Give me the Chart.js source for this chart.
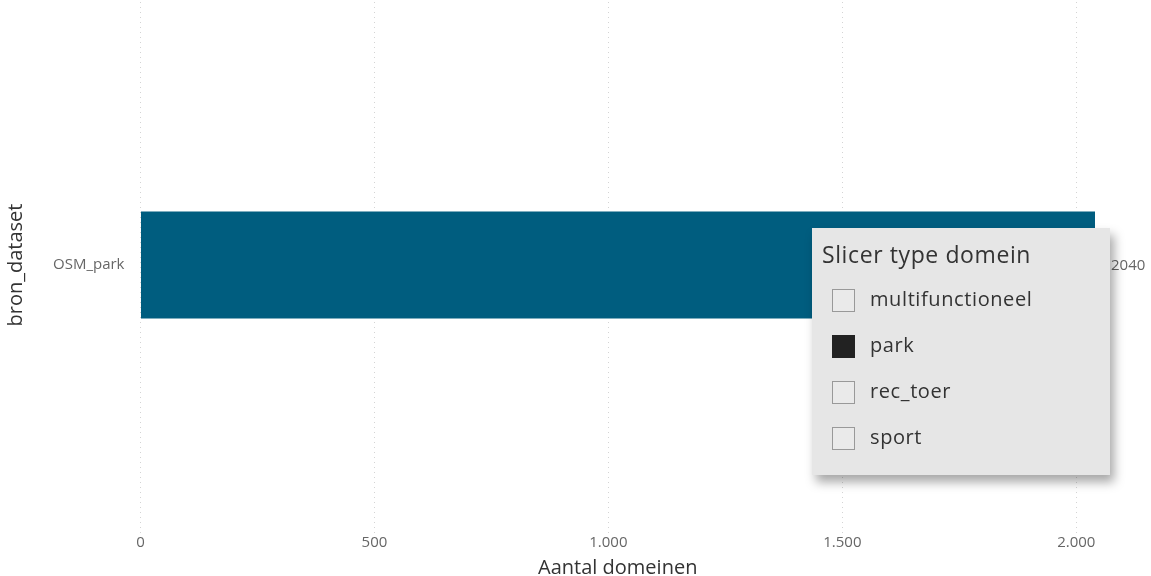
<!DOCTYPE html>
<html>
<head>
<meta charset="utf-8">
<script src="https://cdn.jsdelivr.net/npm/chart.js@4.4.1/dist/chart.umd.min.js"></script>
<style>
  html, body { margin: 0; padding: 0; background: #fff; }
  #wrap { position: relative; width: 1151px; height: 576px; overflow: hidden; }
  #barChart { position: absolute; left: 0; top: -20px; }
  #slicer {
    position: absolute; left: 812px; top: 228px; width: 298px; height: 247px;
    background: #e6e6e6; box-shadow: 4px 7px 10px rgba(0,0,0,0.35);
    font-family: "Open Sans", sans-serif; color: #333; letter-spacing: 0.6px;
  }
  #slicer .title { position: absolute; left: 10px; top: 10px; font-size: 23px; color: #333; }
  #slicer .item { position: absolute; left: 20px; height: 26px; font-size: 20px; line-height: 24px; }
  #slicer .box {
    display: inline-block; width: 23px; height: 23px; border: 1px solid #999;
    box-sizing: border-box; vertical-align: middle; margin-right: 15px; background: #eaeaea;
  }
  #slicer .box.on { background: #222; border-color: #222; }
</style>
</head>
<body>
<div id="wrap">
  <canvas id="barChart" width="1151" height="596"></canvas>
  <div id="slicer"></div>
</div>
<script>
const categories = ['OSM_park'];
const values = [2040];
const xTicks = [0, 500, 1000, 1500, 2000];
const slicerItems = ['multifunctioneel', 'park', 'rec_toer', 'sport'];
const slicerSelected = ['park'];

// slicer panel
const slicer = document.getElementById('slicer');
slicer.innerHTML = '<div class="title">Slicer type domein</div>';
slicerItems.forEach((name, i) => {
    const on = slicerSelected.includes(name) ? ' on' : '';
    slicer.innerHTML += '<div class="item" style="top:' + (59 + i * 46) + 'px">' +
        '<span class="box' + on + '"></span>' + name + '</div>';
});

const dots = v => String(v).replace(/\B(?=(\d{3})+(?!\d))/g, '.');
const FONT = '"Open Sans", sans-serif';

// value label at end of bar
const endLabels = {
    id: 'endLabels',
    afterDatasetsDraw(chart) {
        const c = chart.ctx;
        c.save();
        c.font = '15px ' + FONT;
        c.fillStyle = '#666';
        c.textBaseline = 'middle';
        chart.getDatasetMeta(0).data.forEach((bar, i) => {
            c.fillText(String(values[i]), bar.x + 16, bar.y + 1);
        });
        c.restore();
    }
};

const ctx = document.getElementById('barChart').getContext('2d');
const myChart = new Chart(ctx, {
    type: 'bar',
    data: {
        labels: categories,
        datasets: [{
            data: values,
            backgroundColor: '#005d7f',
            categoryPercentage: 1,
            barPercentage: 0.2
        }]
    },
    plugins: [endLabels],
    options: {
        indexAxis: 'y',
        responsive: false,
        animation: false,
        layout: { padding: { left: 4, right: 56, top: 0, bottom: -2 } },
        plugins: {
            legend: { display: false },
            tooltip: { enabled: false }
        },
        scales: {
            x: {
                min: 0,
                max: 2040,
                afterBuildTicks: axis => {
                    axis.ticks = xTicks.map(v => ({ value: v }));
                },
                grid: { color: '#d4d4d4', lineWidth: 1, drawTicks: false },
                border: { display: false, dash: [1, 4] },
                ticks: {
                    padding: 2,
                    color: '#666',
                    font: { size: 15, family: FONT, lineHeight: 1 },
                    callback: v => dots(v)
                },
                title: {
                    display: true,
                    text: 'Aantal domeinen',
                    color: '#333',
                    padding: { top: 6, bottom: 0 },
                    font: { size: 20, family: FONT, lineHeight: 1 }
                }
            },
            y: {
                grid: { display: false },
                border: { display: false },
                ticks: {
                    padding: 8,
                    color: '#666',
                    font: { size: 15, family: FONT }
                },
                title: {
                    display: true,
                    text: 'bron_dataset',
                    color: '#333',
                    padding: { top: 0, bottom: 17 },
                    font: { size: 20, family: FONT }
                }
            }
        }
    }
});
</script>
</body>
</html>
